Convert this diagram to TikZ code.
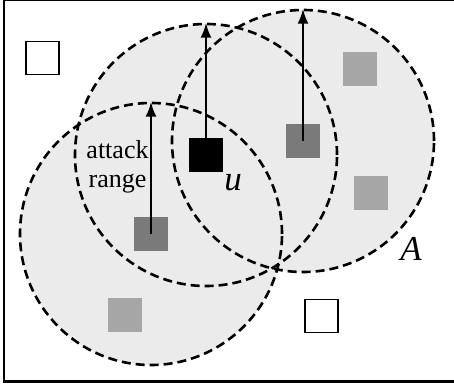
\documentclass[tikz,border=0pt]{standalone}
\usepackage{fontspec}
\setmainfont{Liberation Serif}
\usetikzlibrary{arrows.meta}

\definecolor{zonefill}{RGB}{235,235,235}
\definecolor{lightnode}{RGB}{166,166,166}
\definecolor{darknode}{RGB}{122,122,122}

\tikzset{
  ring/.style={circle, draw=black, dash pattern=on 9pt off 5pt,
               line width=2.6pt, minimum size=262pt, inner sep=0pt},
  agent/.style={rectangle, minimum size=34pt, inner sep=0pt},
  idle/.style={agent, draw=black, line width=1.8pt, fill=white, minimum size=33pt},
  weak/.style={agent, fill=lightnode},
  strong/.style={agent, fill=darknode},
  target/.style={agent, fill=black},
  reach/.style={line width=2.4pt, -{Latex[length=15pt,width=11pt]}},
  lbl/.style={font=\fontsize{26}{28.5}\selectfont, align=center, inner sep=0pt},
  sym/.style={font=\fontsize{35}{40}\selectfont\itshape, inner sep=0pt}
}

\begin{document}
\begin{tikzpicture}[x=1pt,y=-1pt]
  \useasboundingbox (0,0) rectangle (454,390);

  % outer frame
  \draw[line width=2.4pt] (4,-0.6) rectangle (457,381.5);

  % positions of the attackers
  \coordinate (p1) at (151,234);
  \coordinate (p2) at (206,155);
  \coordinate (p3) at (303,141);

  % shaded attack zones
  \fill[zonefill] (p1) circle[radius=131] (p2) circle[radius=131] (p3) circle[radius=131];

  % dashed range boundaries
  \node[ring] (r1) at (p1) {};
  \node[ring] (r2) at (p2) {};
  \node[ring] (r3) at (p3) {};

  % nodes
  \node[idle] (n1) at (42.5,58) {};
  \node[idle] (n2) at (321.5,316) {};
  \node[weak] (w1) at (360,69) {};
  \node[weak] (w2) at (371,192.5) {};
  \node[weak] (w3) at (125,315) {};
  \node[strong] (s1) at (p1) {};
  \node[strong] (s3) at (p3) {};
  \node[target] (u) at (p2) {};

  % range arrows
  \draw[reach] (s1.center) -- (r1.north);
  \draw[reach] (u.north) -- (r2.north);
  \draw[reach] (s3.center) -- (r3.north);

  % labels
  \node[lbl] (range) at (117.5,167) {attack\\range};
  \node[sym] (ulbl) at (233,183) {u};
  \node[sym] (alabel) at (411,249) {A};
\end{tikzpicture}
\end{document}
